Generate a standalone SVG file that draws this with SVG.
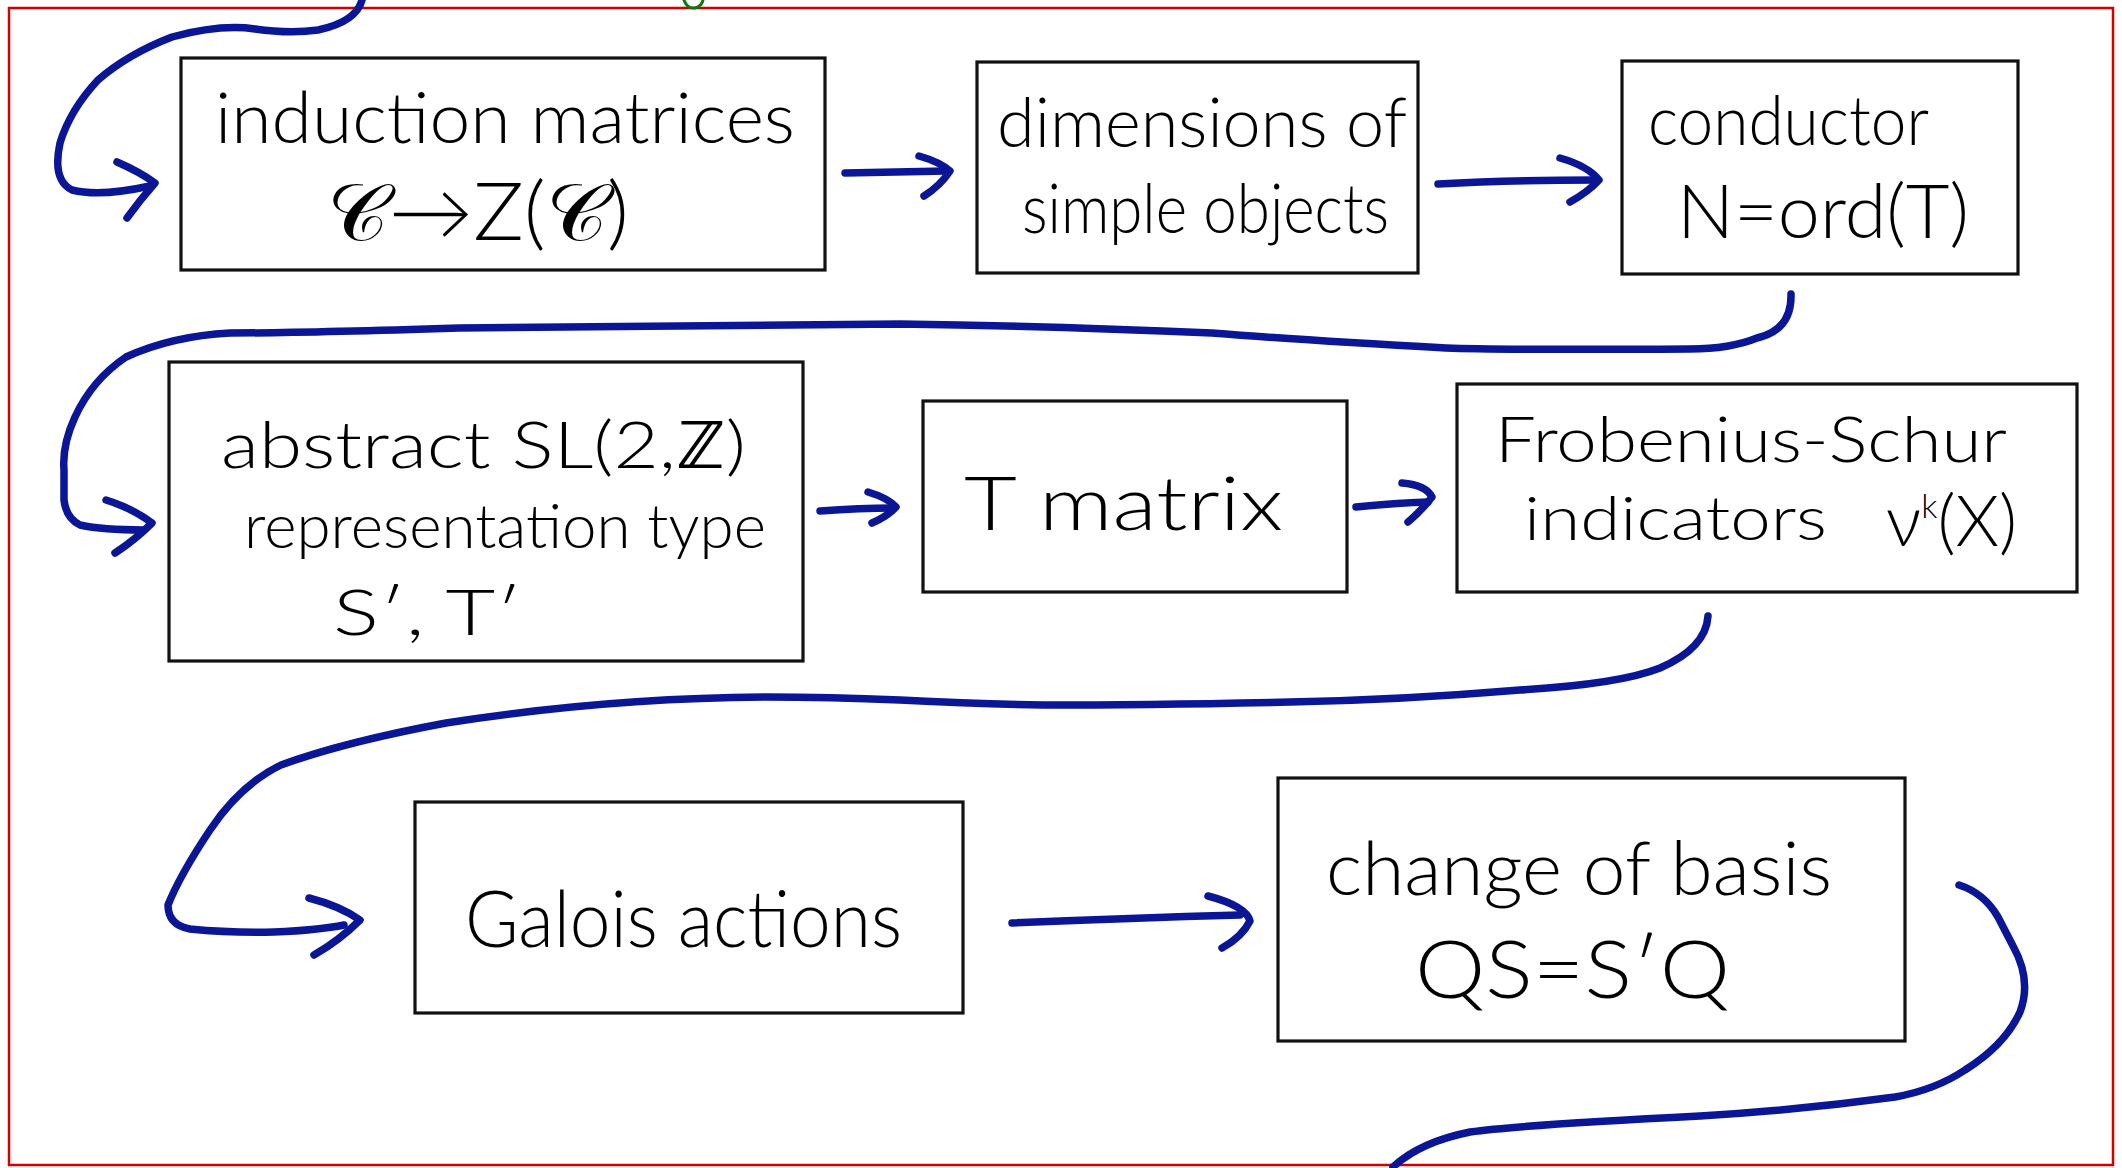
<svg xmlns="http://www.w3.org/2000/svg" width="2122" height="1168" viewBox="0 0 2122 1168">
<style>
.bg{fill:#ffffff}
.frame{fill:none;stroke:#d40000;stroke-width:2.5}
.box{fill:#ffffff;stroke:#111111;stroke-width:3.2}
.t{font-family:"Lato","Liberation Sans","DejaVu Sans",sans-serif;font-weight:300;fill:#000000}
.c{fill:none;stroke:#0a1696;stroke-width:7.5;stroke-linecap:round;stroke-linejoin:round}
.g{fill:none;stroke:#0a7a0a;stroke-width:3;stroke-linecap:round}
</style>
<rect class="bg" x="0" y="0" width="2122" height="1168"/>
<rect class="frame" x="9" y="8" width="2104" height="1157"/>
<path class="g" d="M684,0 Q687,9 695,8 Q702,6 703,0"/>

<g id="connectors">
  <!-- into induction matrices -->
  <path class="c" d="M362,0 Q356,22 318,30 Q290,34 255,29 Q220,24 172,37 Q128,54 98,80 Q70,110 60,143 Q52,180 72,190 Q100,197 150,186"/>
  <path class="c" d="M117,162 Q140,172 155,183 Q140,200 127,218"/>
  <!-- induction -> dimensions -->
  <path class="c" d="M845,173 Q900,172 946,171"/>
  <path class="c" d="M919,156 Q940,162 950,171 Q940,186 924,196"/>
  <!-- dimensions -> conductor -->
  <path class="c" d="M1438,184 Q1510,180 1596,180"/>
  <path class="c" d="M1560,158 Q1588,166 1599,180 Q1588,192 1570,202"/>
  <!-- conductor -> abstract -->
  <path class="c" d="M1791,294 Q1792,330 1757,338 Q1730,349 1690,349 Q1500,350 1446,348 Q1300,340 1212,333 Q1050,326 900,324 Q700,326 459,328 Q300,333 230,333 Q172,336 126,357 Q92,380 75,417 Q62,445 64,470 L64,500 Q66,518 80,525 Q103,530 143,530"/>
  <path class="c" d="M106,500 Q132,508 152,523 Q135,540 115,553"/>
  <!-- abstract -> T matrix -->
  <path class="c" d="M820,511 Q860,508 893,508"/>
  <path class="c" d="M868,492 Q888,498 896,507 Q888,516 872,523"/>
  <!-- T matrix -> FS indicators -->
  <path class="c" d="M1356,507 Q1395,503 1428,502"/>
  <path class="c" d="M1402,483 Q1426,485 1432,497 Q1422,510 1408,522"/>
  <!-- FS indicators -> Galois -->
  <path class="c" d="M1708,616 Q1706,648 1660,668 Q1620,684 1520,690 Q1400,700 1290,702 Q1150,705 1043,705 Q980,704 900,700 Q830,697 765,697 Q606,698 446,723 Q344,742 281,765 Q240,785 210,830 Q180,875 168,905 Q168,925 190,929 Q230,933 274,932 Q320,930 344,925"/>
  <path class="c" d="M309,898 Q340,906 360,920 Q340,940 314,955"/>
  <!-- Galois -> change of basis -->
  <path class="c" d="M1012,923 Q1130,918 1240,915"/>
  <path class="c" d="M1208,896 Q1246,906 1250,921 Q1242,937 1222,948"/>
  <!-- change of basis -> outward -->
  <path class="c" d="M1959,885 Q1984,893 1998,917 L2013,946 Q2032,980 2020,1012 Q2005,1045 1965,1070 Q1935,1090 1895,1097 Q1800,1110 1700,1116 Q1520,1125 1470,1132 Q1420,1142 1393,1167"/>
</g>

<g id="n-induction">
  <rect class="box" x="181" y="58" width="644" height="212"/>
  <text class="t" x="215" y="143" font-size="70" textLength="580" lengthAdjust="spacingAndGlyphs">induction matrices</text>
  <text class="t" x="327" y="240" font-size="80" textLength="302" lengthAdjust="spacingAndGlyphs">𝒞→Z(𝒞)</text>
</g>
<g id="n-dimensions">
  <rect class="box" x="977" y="62" width="441" height="211"/>
  <text class="t" x="997" y="147" font-size="68" textLength="410" lengthAdjust="spacingAndGlyphs">dimensions of</text>
  <text class="t" x="1022" y="233" font-size="68" textLength="367" lengthAdjust="spacingAndGlyphs">simple objects</text>
</g>
<g id="n-conductor">
  <rect class="box" x="1622" y="61" width="396" height="213"/>
  <text class="t" x="1648" y="145" font-size="68" textLength="281" lengthAdjust="spacingAndGlyphs">conductor</text>
  <text class="t" x="1677" y="238" font-size="74" textLength="292" lengthAdjust="spacingAndGlyphs">N=ord(T)</text>
</g>
<g id="n-abstract">
  <rect class="box" x="169" y="362" width="634" height="299"/>
  <text class="t" x="221" y="468" font-size="66" textLength="525" lengthAdjust="spacingAndGlyphs">abstract SL(2,ℤ)</text>
  <text class="t" x="244" y="548" font-size="62" textLength="522" lengthAdjust="spacingAndGlyphs">representation type</text>
  <text class="t" x="333" y="635" font-size="64" textLength="189" lengthAdjust="spacingAndGlyphs">S′, T′</text>
</g>
<g id="n-tmatrix">
  <rect class="box" x="923" y="401" width="424" height="191"/>
  <text class="t" x="964" y="530" font-size="74" textLength="319" lengthAdjust="spacingAndGlyphs">T matrix</text>
</g>
<g id="n-fs">
  <rect class="box" x="1457" y="384" width="620" height="208"/>
  <text class="t" x="1495" y="462" font-size="64" textLength="512" lengthAdjust="spacingAndGlyphs">Frobenius-Schur</text>
  <text class="t" x="1524" y="540" font-size="62" textLength="303" lengthAdjust="spacingAndGlyphs">indicators</text>
  <text class="t" x="1886" y="546" font-size="70">ν<tspan font-size="34" dy="-28">k</tspan><tspan dy="28">(X)</tspan></text>
</g>
<g id="n-galois">
  <rect class="box" x="415" y="802" width="548" height="211"/>
  <text class="t" x="465" y="947" font-size="78" textLength="437" lengthAdjust="spacingAndGlyphs">Galois actions</text>
</g>
<g id="n-basis">
  <rect class="box" x="1278" y="778" width="627" height="263"/>
  <text class="t" x="1326" y="895" font-size="74" textLength="506" lengthAdjust="spacingAndGlyphs">change of basis</text>
  <text class="t" x="1415" y="998" font-size="80" textLength="315" lengthAdjust="spacingAndGlyphs">QS=S′Q</text>
</g>
</svg>
